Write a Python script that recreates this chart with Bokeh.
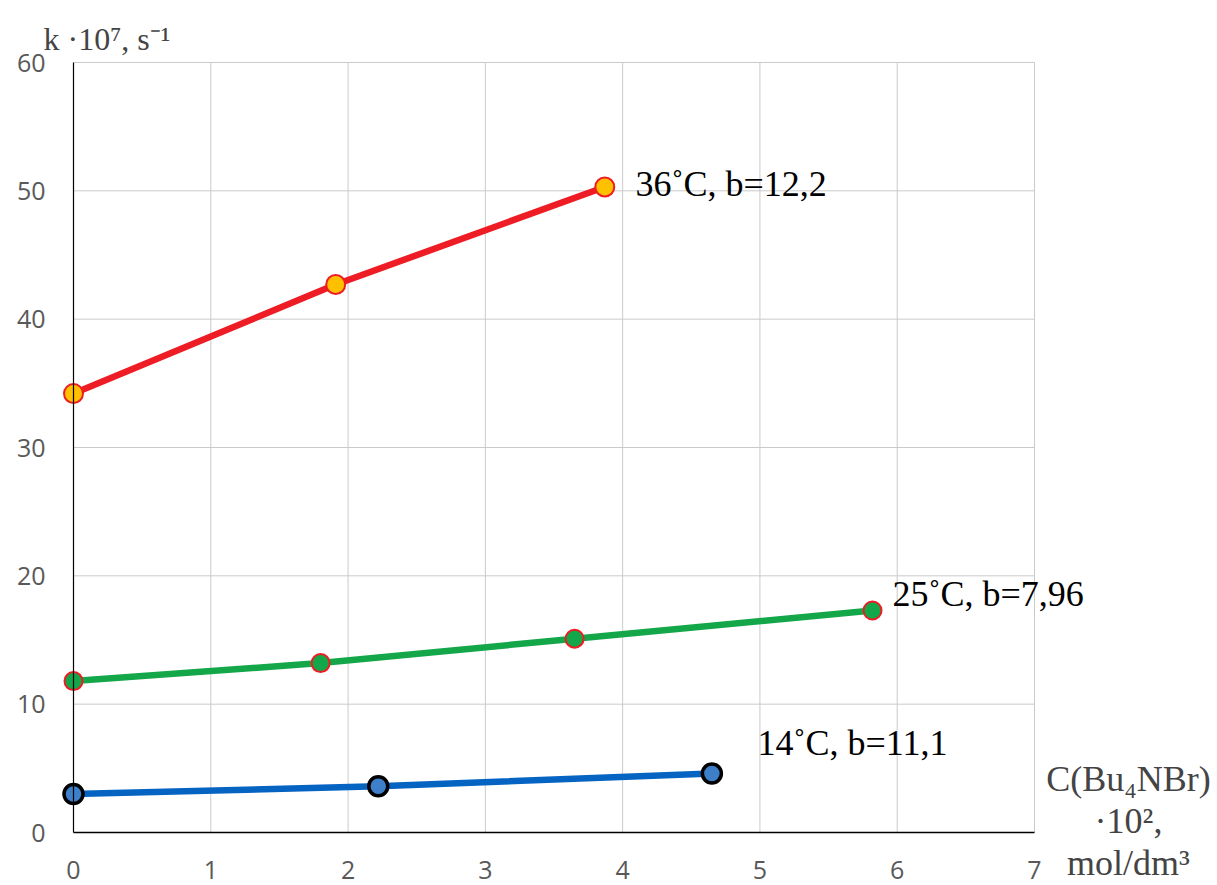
from bokeh.plotting import figure
from bokeh.models import Range1d, FixedTicker, Label
from bokeh.embed import file_html
from bokeh.resources import INLINE

# data
x36 = [0.0, 1.91, 3.87]
y36 = [34.2, 42.7, 50.3]
x25 = [0.0, 1.80, 3.65, 5.82]
y25 = [11.8, 13.2, 15.1, 17.3]
x14 = [0.0, 2.22, 4.65]
y14 = [3.0, 3.6, 4.6]
x_ticks = [0, 1, 2, 3, 4, 5, 6, 7]
y_ticks = [0, 10, 20, 30, 40, 50, 60]
labels = ["36˚C, b=12,2", "25˚C, b=7,96", "14˚C, b=11,1"]
y_title = "k ·10⁷, s⁻¹"
x_title = ["C(Bu₄NBr)", "·10²,", "mol/dm³"]

# layout: plot area inside the canvas (px)
W, H = 1217, 885
L, R, T, B = 73, 1034, 62, 832
sx = (R - L) / (x_ticks[-1] - x_ticks[0])
sy = (B - T) / (y_ticks[-1] - y_ticks[0])

p = figure(width=W, height=H, output_backend="svg", toolbar_location=None,
           x_range=Range1d(x_ticks[0] - L / sx, x_ticks[-1] + (W - R) / sx),
           y_range=Range1d(y_ticks[0] - (H - B) / sy, y_ticks[-1] + T / sy),
           min_border=0)
p.title.visible = False
p.outline_line_color = None
p.background_fill_color = "white"
p.border_fill_color = "white"
p.xgrid.visible = False
p.ygrid.visible = False

# grid lines limited to the plot area
p.segment(x0=x_ticks[1:], y0=y_ticks[0], x1=x_ticks[1:], y1=y_ticks[-1],
          line_color="#CACACA", line_width=1)
p.segment(x0=x_ticks[0], y0=y_ticks[1:], x1=x_ticks[-1], y1=y_ticks[1:],
          line_color="#CACACA", line_width=1)

for ax in (p.xaxis, p.yaxis):
    ax.major_tick_line_color = None
    ax.minor_tick_line_color = None
    ax.major_label_text_font = "Open Sans"
    ax.major_label_text_font_size = "25px"
    ax.major_label_text_color = "#595959"
    ax.axis_line_color = "black"
p.xaxis.ticker = FixedTicker(ticks=x_ticks)
p.yaxis.ticker = FixedTicker(ticks=y_ticks)
p.xaxis.fixed_location = 0
p.yaxis.fixed_location = 0
p.xaxis.bounds = (x_ticks[0], x_ticks[-1])
p.yaxis.bounds = (y_ticks[0], y_ticks[-1])
p.xaxis.axis_line_width = 1.5
p.yaxis.axis_line_width = 1.2
p.xaxis.major_label_standoff = 22
p.yaxis.major_label_standoff = 22

p.line(x36, y36, line_color="#EE1C24", line_width=6.5)
p.scatter(x36, y36, size=19, fill_color="#FFC000", line_color="#EE1C24", line_width=2)

p.line(x25, y25, line_color="#13A74A", line_width=6.5)
p.scatter(x25, y25, size=18, fill_color="#13A74A", line_color="#EE1C24", line_width=2)

p.line(x14, y14, line_color="#0563C1", line_width=6.5)
p.scatter(x14, y14, size=19, fill_color="#3D7FC8", line_color="black", line_width=3.5)

serif = "Liberation Serif"
for (lx, ly), txt in zip(((4.094, 50.57), (5.965, 18.62), (4.982, 6.94)), labels):
    p.add_layout(Label(x=lx, y=ly, text=txt, text_font=serif, text_font_size="36px",
                       text_baseline="alphabetic", text_color="black"))

p.add_layout(Label(x=43, y=847, x_units="screen", y_units="screen", text=y_title,
                   text_font=serif, text_font_size="32px", text_baseline="alphabetic"))
for txt, yy in zip(x_title, (107, 65, 23)):
    p.add_layout(Label(x=1128, y=yy, x_units="screen", y_units="screen", text=txt,
                       text_font=serif, text_font_size="36px", text_align="center",
                       text_baseline="alphabetic"))

open("out.html", "w").write(file_html(p, INLINE))
